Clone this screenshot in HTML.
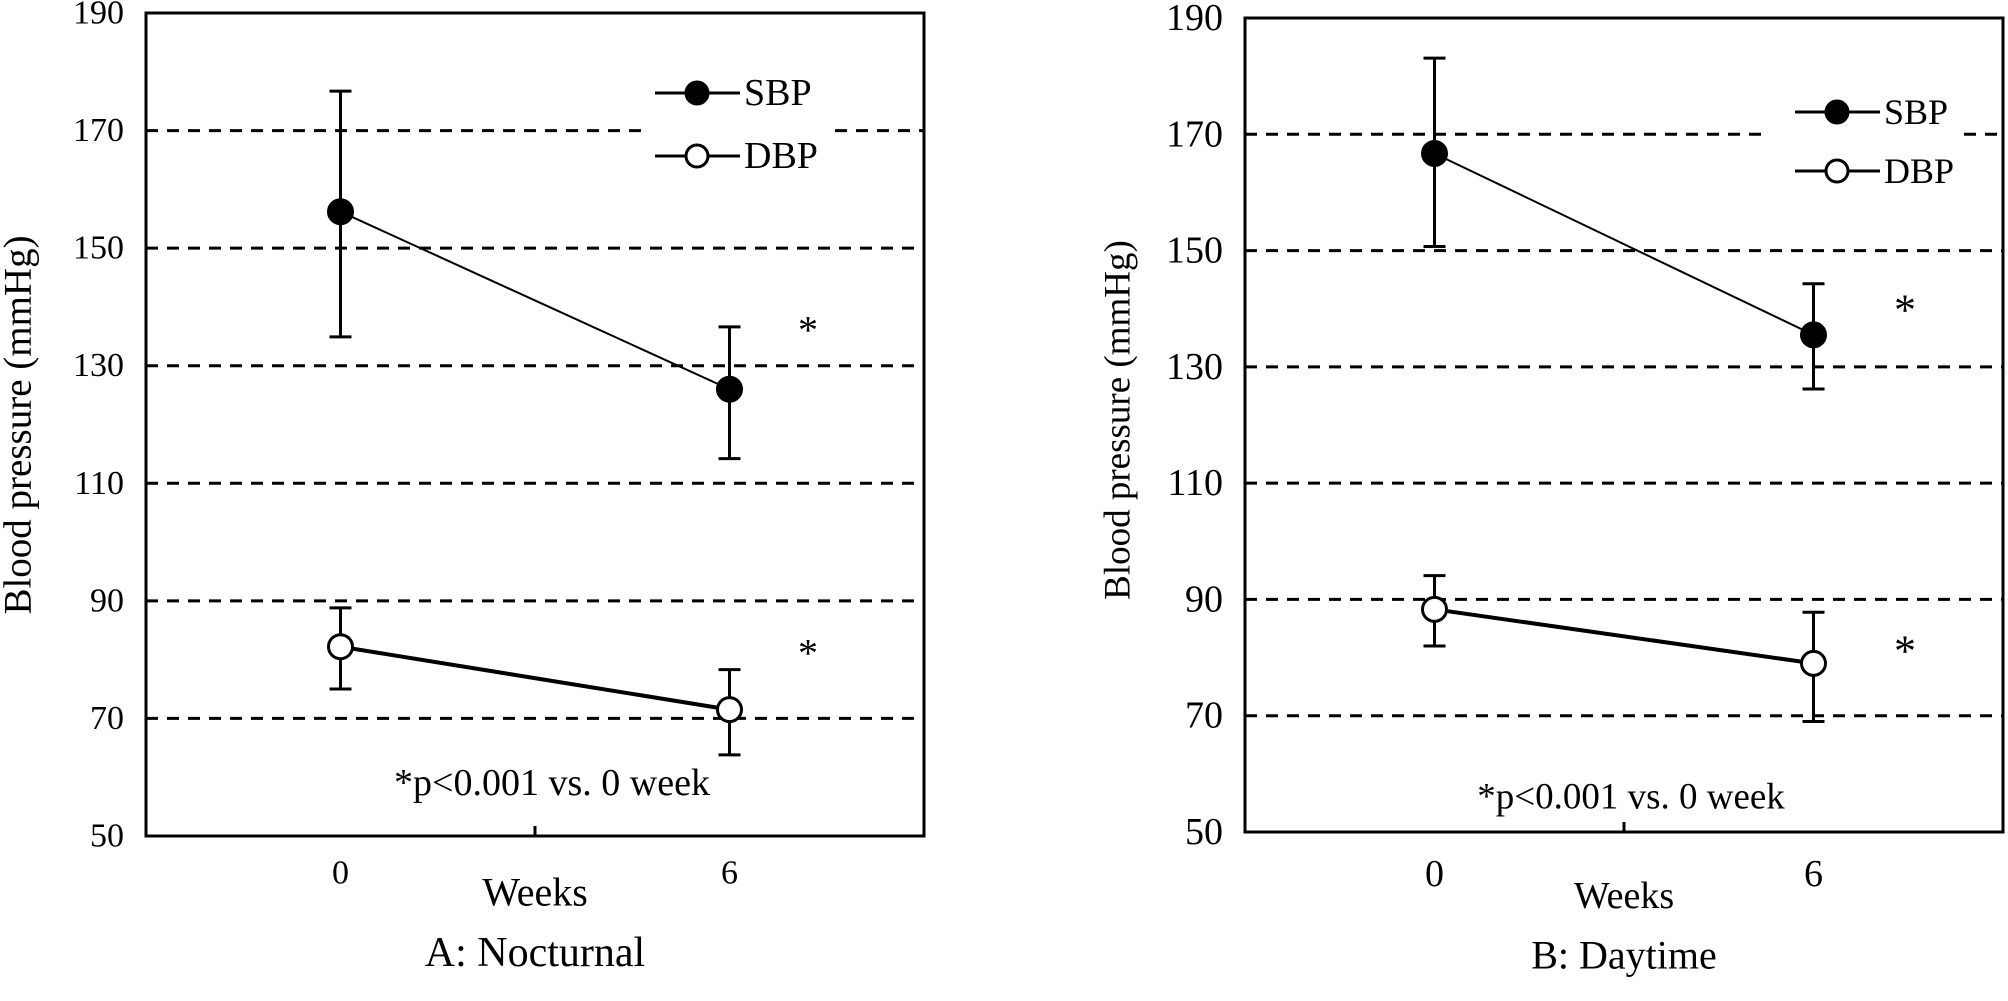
<!DOCTYPE html>
<html><head><meta charset="utf-8"><style>
html,body{margin:0;padding:0;background:#fff;}
svg{display:block;}
text{font-family:"Liberation Serif",serif;fill:#000;}
</style></head><body>
<svg id="chart" width="2008" height="1001" viewBox="0 0 2008 1001" xmlns="http://www.w3.org/2000/svg"></svg>
<script>
const categories = ["0", "6"];
const yTicks = [50, 70, 90, 110, 130, 150, 170, 190];
const nocSBP = [156.2, 126.0];
const nocSBPLo = [134.9, 114.2];
const nocSBPHi = [176.7, 136.6];
const nocDBP = [82.2, 71.5];
const nocDBPLo = [75.0, 63.8];
const nocDBPHi = [88.8, 78.3];
const daySBP = [166.7, 135.5];
const daySBPLo = [150.7, 126.2];
const daySBPHi = [183.1, 144.3];
const dayDBP = [88.3, 79.0];
const dayDBPLo = [82.0, 69.0];
const dayDBPHi = [94.1, 87.8];

const NS = "http://www.w3.org/2000/svg";
const svg = document.getElementById("chart");
function mk(tag, attrs, parent) {
  const e = document.createElementNS(NS, tag);
  for (const k in attrs) e.setAttribute(k, attrs[k]);
  (parent || svg).appendChild(e);
  return e;
}

const panels = [
  {id:"nocturnal", x0:146, x1:924, y0:13, y1:836, fs:34, nfs:38, wfs:40, tfs:42, yfs:39, lfs:38, title:"A: Nocturnal",
   sbp:nocSBP, sbpLo:nocSBPLo, sbpHi:nocSBPHi, dbp:nocDBP, dbpLo:nocDBPLo, dbpHi:nocDBPHi,
   legX:655, legY1:93, legY2:156, legGap:[643,835], starX:808, starY:[320,643],
   noteX:552, noteY:783, ylabX:18, ylabY:425, weeksY:892, titleY:953, tickY:873},
  {id:"daytime", x0:1245, x1:2003, y0:18, y1:832, fs:38, nfs:37, wfs:38, tfs:40, yfs:37, lfs:36, title:"B: Daytime",
   sbp:daySBP, sbpLo:daySBPLo, sbpHi:daySBPHi, dbp:dayDBP, dbpLo:dayDBPLo, dbpHi:dayDBPHi,
   legX:1795, legY1:112, legY2:171, legGap:[1769,1964], starX:1905, starY:[300,641],
   noteX:1631, noteY:797, ylabX:1118, ylabY:420, weeksY:896, titleY:955, tickY:874}
];

panels.forEach(p => {
  const g = mk("g", {});
  
  
  const ys = v => p.y1 - (v - 50) / 140 * (p.y1 - p.y0);
  const xs = i => p.x0 + (p.x1 - p.x0) * (0.25 + 0.5 * i);
  yTicks.forEach(t => {
    if (t === 50 || t === 190) return;
    const y = ys(t);
    if (t === 170) {
      const a = mk("line", {x1:p.x0, x2:p.legGap[0], y1:y, y2:y, stroke:"#000", "stroke-width":3, "stroke-dasharray":"12 9"}, g);
      
      
      const b = mk("line", {x1:p.legGap[1], x2:p.x1, y1:y, y2:y, stroke:"#000", "stroke-width":3, "stroke-dasharray":"12 9"}, g);
      
      
    } else {
      const l = mk("line", {x1:p.x0, x2:p.x1, y1:y, y2:y, stroke:"#000", "stroke-width":3, "stroke-dasharray":"12 9"}, g);
      
      
    }
  });
  const fr = mk("rect", {x:p.x0, y:p.y0, width:p.x1 - p.x0, height:p.y1 - p.y0, fill:"none", stroke:"#000", "stroke-width":3}, g);
  
  
  const mt = mk("line", {x1:(p.x0 + p.x1) / 2, x2:(p.x0 + p.x1) / 2, y1:p.y1 - 10, y2:p.y1, stroke:"#000", "stroke-width":3}, g);
  
  
  yTicks.forEach(t => {
    const tx = mk("text", {x:p.x0 - 22, y:ys(t), "font-size":p.fs, "text-anchor":"end", "dominant-baseline":"central"}, g);
    tx.textContent = t;
    
    
  });
  categories.forEach((c, i) => {
    const tx = mk("text", {x:xs(i), y:p.tickY, "font-size":p.fs, "text-anchor":"middle", "dominant-baseline":"central"}, g);
    tx.textContent = c;
    
    
  });
  [["sbp", p.sbp, p.sbpLo, p.sbpHi, "#000", 2], ["dbp", p.dbp, p.dbpLo, p.dbpHi, "#fff", 4]].forEach(s => {
    const [name, vals, lo, hi, fill, lw] = s;
    const ln = mk("polyline", {points: vals.map((v, i) => xs(i) + "," + ys(v)).join(" "), fill:"none", stroke:"#000", "stroke-width":lw}, g);
    
    
    vals.forEach((v, i) => {
      const x = xs(i);
      const eb = mk("path", {d:`M${x},${ys(hi[i])}V${ys(lo[i])}M${x - 11},${ys(hi[i])}H${x + 11}M${x - 11},${ys(lo[i])}H${x + 11}`, stroke:"#000", "stroke-width":3, fill:"none"}, g);
      
      
      const c = mk("circle", {cx:x, cy:ys(v), r:12, fill:fill, stroke:"#000", "stroke-width":3}, g);
      
      
    });
  });
  [["SBP", p.legY1, "#000"], ["DBP", p.legY2, "#fff"]].forEach(L => {
    const lg = mk("g", {}, g);
    
    
    mk("line", {x1:p.legX, x2:p.legX + 85, y1:L[1], y2:L[1], stroke:"#000", "stroke-width":3}, lg);
    mk("circle", {cx:p.legX + 42, cy:L[1], r:11, fill:L[2], stroke:"#000", "stroke-width":3}, lg);
    const t = mk("text", {x:p.legX + 89, y:L[1], "font-size":p.lfs, "dominant-baseline":"central"}, lg);
    t.textContent = L[0];
  });
  p.starY.forEach(y => {
    const t = mk("text", {x:p.starX, y:y + 10, "font-size":p.fs + 6, "text-anchor":"middle", "dominant-baseline":"central"}, g);
    t.textContent = "*";
    
    
  });
  const note = mk("text", {x:p.noteX, y:p.noteY, "font-size":p.nfs, "text-anchor":"middle", "dominant-baseline":"central"}, g);
  note.textContent = "*p<0.001 vs. 0 week";
  
  
  const yl = mk("text", {x:p.ylabX, y:p.ylabY, "font-size":p.yfs, "text-anchor":"middle", "dominant-baseline":"central", transform:`rotate(-90 ${p.ylabX} ${p.ylabY})`}, g);
  yl.textContent = "Blood pressure (mmHg)";
  
  
  const wk = mk("text", {x:(p.x0 + p.x1) / 2, y:p.weeksY, "font-size":p.wfs, "text-anchor":"middle", "dominant-baseline":"central"}, g);
  wk.textContent = "Weeks";
  
  
  const ti = mk("text", {x:(p.x0 + p.x1) / 2, y:p.titleY, "font-size":p.tfs, "text-anchor":"middle", "dominant-baseline":"central"}, g);
  ti.textContent = p.title;
  
  
});
</script>
</body></html>
